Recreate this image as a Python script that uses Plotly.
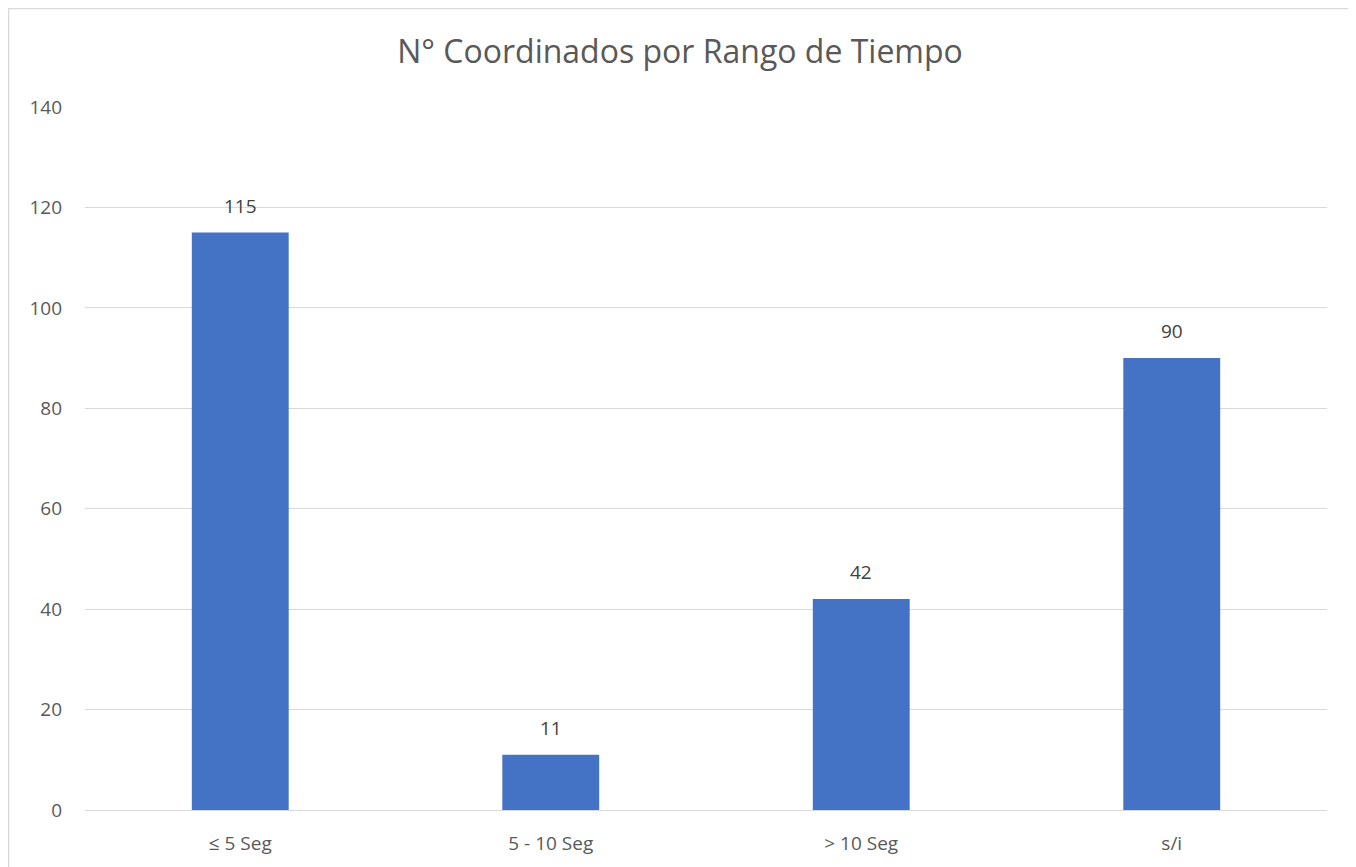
import plotly.graph_objects as go

categories = ["≤ 5 Seg", "5 - 10 Seg", "> 10 Seg", "s/i"]
values = [115, 11, 42, 90]
tick_vals = [0, 20, 40, 60, 80, 100, 120, 140]

# page offset (body margin) of 8px is accounted for in margins
W, H = 1356, 867
L, R, T, B = 77, 37, 99, 65
pw, ph = W - L - R, H - T - B

def px_to_paper_x(px):
    return (px - L) / pw

def px_to_paper_y(py):
    return (H - B - py) / ph

fig = go.Figure()
fig.add_trace(go.Bar(
    x=categories, y=values,
    marker=dict(color="#4472C4", line=dict(width=0)),
    hoverinfo="x+y",
))

for c, v in zip(categories, values):
    fig.add_annotation(
        x=c, y=v, text=str(v), showarrow=False,
        yanchor="bottom", yshift=12,
        font=dict(family="Open Sans", size=19, color="#404040"),
    )

fig.update_layout(
    width=W, height=H,
    margin=dict(l=L, r=R, t=T, b=B),
    paper_bgcolor="white", plot_bgcolor="white",
    bargap=0.688,
    showlegend=False,
    title=dict(
        text="N° Coordinados por Rango de Tiempo",
        x=672 / W, xref="container", xanchor="center",
        y=1 - 44 / H, yanchor="middle",
        font=dict(family="Open Sans", size=32, color="#595959"),
    ),
    xaxis=dict(
        showgrid=False, showline=False, zeroline=False,
        ticks="", ticklabelstandoff=20,
        tickfont=dict(family="Open Sans", size=19, color="#595959"),
    ),
    yaxis=dict(
        range=[0, 140], tickvals=tick_vals,
        showgrid=True, gridcolor="#D9D9D9", gridwidth=1.3,
        zeroline=True, zerolinecolor="#D9D9D9", zerolinewidth=1.3,
        showline=False, ticks="",
        ticklabelstandoff=22,
        tickfont=dict(family="Open Sans", size=19, color="#595959"),
    ),
)

fig.add_shape(
    type="rect", xref="paper", yref="paper",
    x0=px_to_paper_x(0.5), x1=px_to_paper_x(1347),
    y0=px_to_paper_y(900), y1=px_to_paper_y(0.5),
    line=dict(color="#D9D9D9", width=1.5), fillcolor="rgba(0,0,0,0)",
    layer="below",
)

fig.write_html("out.html")
